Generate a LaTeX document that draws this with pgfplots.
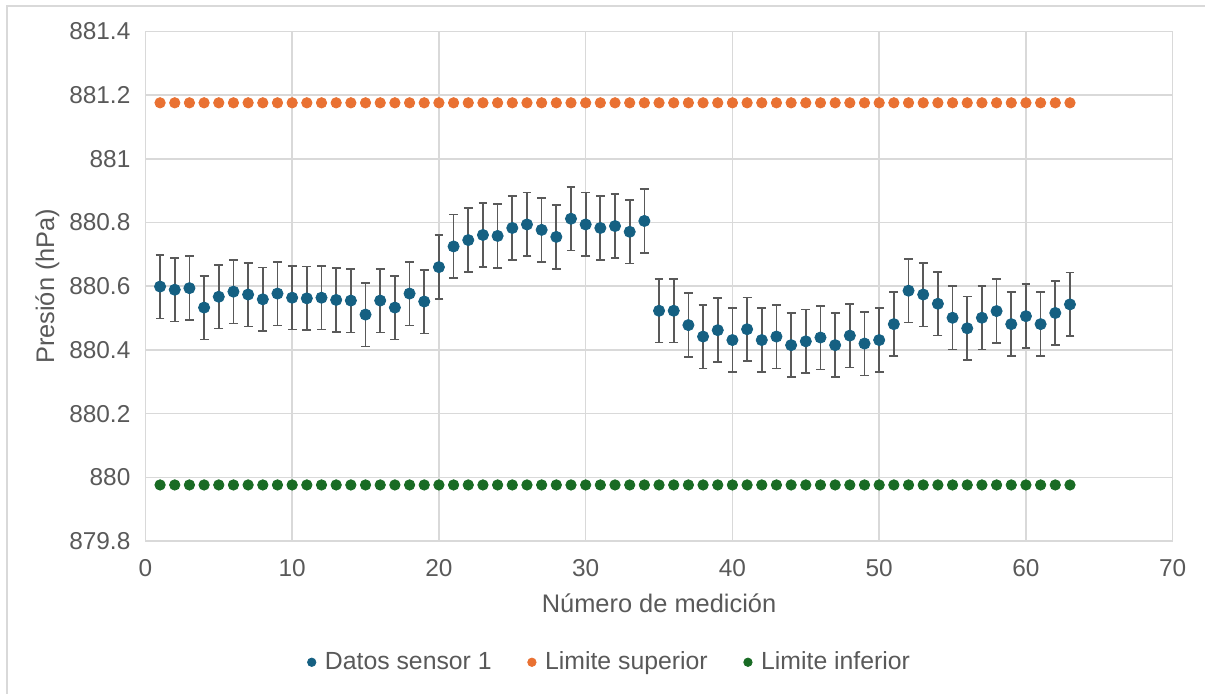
\documentclass[border=0pt]{standalone}
\usepackage{fontspec}
\setmainfont{Liberation Sans}
\usepackage{pgfplots}
\pgfplotsset{compat=1.18}
\usepackage{pgfplotstable}
\definecolor{cBlue}{HTML}{156082}
\definecolor{cOrange}{HTML}{E97132}
\definecolor{cGreen}{HTML}{196B24}
\definecolor{cText}{HTML}{595959}
\definecolor{cGrid}{HTML}{D9D9D9}
\definecolor{cErr}{HTML}{595959}
\pgfplotstableread{
x y up lo
1 880.599 881.176 879.976
2 880.589 881.176 879.976
3 880.594 881.176 879.976
4 880.533 881.176 879.976
5 880.567 881.176 879.976
6 880.583 881.176 879.976
7 880.574 881.176 879.976
8 880.559 881.176 879.976
9 880.577 881.176 879.976
10 880.564 881.176 879.976
11 880.562 881.176 879.976
12 880.564 881.176 879.976
13 880.557 881.176 879.976
14 880.555 881.176 879.976
15 880.511 881.176 879.976
16 880.555 881.176 879.976
17 880.533 881.176 879.976
18 880.577 881.176 879.976
19 880.552 881.176 879.976
20 880.660 881.176 879.976
21 880.725 881.176 879.976
22 880.745 881.176 879.976
23 880.761 881.176 879.976
24 880.758 881.176 879.976
25 880.783 881.176 879.976
26 880.794 881.176 879.976
27 880.777 881.176 879.976
28 880.755 881.176 879.976
29 880.812 881.176 879.976
30 880.794 881.176 879.976
31 880.783 881.176 879.976
32 880.789 881.176 879.976
33 880.771 881.176 879.976
34 880.805 881.176 879.976
35 880.523 881.176 879.976
36 880.523 881.176 879.976
37 880.478 881.176 879.976
38 880.442 881.176 879.976
39 880.462 881.176 879.976
40 880.431 881.176 879.976
41 880.465 881.176 879.976
42 880.431 881.176 879.976
43 880.442 881.176 879.976
44 880.415 881.176 879.976
45 880.427 881.176 879.976
46 880.439 881.176 879.976
47 880.415 881.176 879.976
48 880.445 881.176 879.976
49 880.420 881.176 879.976
50 880.431 881.176 879.976
51 880.481 881.176 879.976
52 880.586 881.176 879.976
53 880.574 881.176 879.976
54 880.545 881.176 879.976
55 880.501 881.176 879.976
56 880.468 881.176 879.976
57 880.501 881.176 879.976
58 880.522 881.176 879.976
59 880.481 881.176 879.976
60 880.506 881.176 879.976
61 880.481 881.176 879.976
62 880.516 881.176 879.976
63 880.543 881.176 879.976
}\datatable
\begin{document}
\begin{tikzpicture}
\begin{axis}[
  name=ax,
  scale only axis,
  width=513.65pt, height=254.75pt,
  xmin=0, xmax=70, ymin=879.8, ymax=881.4,
  xtick={0,10,...,70},
  ytick={879.8,880,880.2,880.4,880.6,880.8,881,881.2,881.4},
  major tick length=0pt,
  grid=major,
  major grid style={cGrid, line width=0.75pt},
  axis line style={cGrid, line width=0.75pt},
  tick label style={font=\fontsize{12.2}{14}\selectfont, text=cText},
  /pgf/number format/assume math mode=true,
  /pgf/number format/.cd, fixed, precision=1, 1000 sep={}, /pgfplots/.cd,
  yticklabel style={xshift=-4pt},
  xticklabel style={yshift=-5.5pt},
  xlabel={Número de medición},
  ylabel={Presión (hPa)},
  label style={font=\fontsize{12.7}{14}\selectfont, text=cText},
  xlabel style={at={(axis description cs:0.5,-0.123)}, anchor=center},
  ylabel style={at={(axis description cs:-0.0953,0.5)}, anchor=center, rotate=0},
  legend style={draw=none, fill=none, font=\fontsize{12.4}{14}\selectfont, text=cText,
    at={(axis description cs:0.453,-0.238)}, anchor=center},
  legend columns=-1,
  legend image code/.code={\draw[#1, mark size=2.1pt] plot coordinates {(0pt,0pt)};},
]
\addplot[only marks, mark=*, mark size=2.8pt, color=cBlue,
  error bars/.cd, y dir=both, y fixed=0.1,
  error bar style={cErr, line width=0.85pt}, error mark options={cErr, line width=0.85pt, mark size=2.2pt, rotate=90}]
  table[x=x, y=y] {\datatable};
\addlegendentry{\rule{2.5pt}{0pt}Datos sensor 1\rule{16pt}{0pt}}
\addplot[only marks, mark=*, mark size=2.6pt, color=cOrange] table[x=x, y=up] {\datatable};
\addlegendentry{\rule{2.5pt}{0pt}Limite superior\rule{16pt}{0pt}}
\addplot[only marks, mark=*, mark size=2.6pt, color=cGreen] table[x=x, y=lo] {\datatable};
\addlegendentry{\rule{2.5pt}{0pt}Limite inferior}
\end{axis}
\pgfresetboundingbox
\path[use as bounding box] ([shift={(-72.7pt,-76.5pt)}]ax.south west) rectangle ([shift={(16.15pt,15.75pt)}]ax.north east);
\draw[cGrid, line width=0.75pt] ([shift={(-69.2pt,-80pt)}]ax.south west) -- ([shift={(-69.2pt,12.75pt)}]ax.north west) -- ([shift={(20pt,12.75pt)}]ax.north east);
\end{tikzpicture}
\end{document}
